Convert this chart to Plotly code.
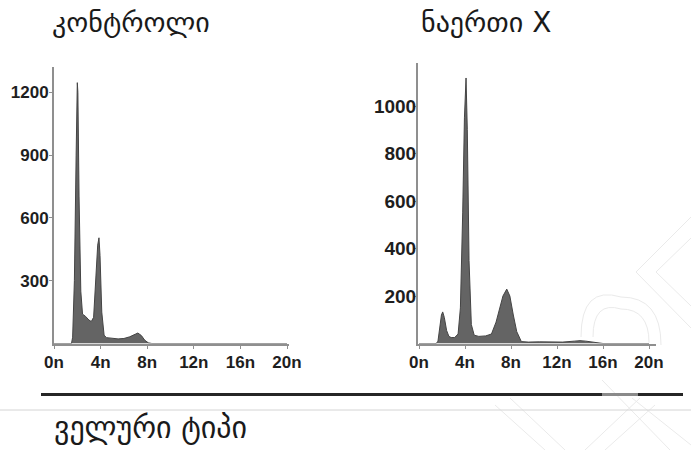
import plotly.graph_objects as go

# ---- data ----
ctrl_x = [0, 1.5, 1.6, 1.75, 1.9, 2.0, 2.05, 2.15, 2.3, 2.45, 2.7, 3.0, 3.2, 3.4, 3.6, 3.75, 3.86, 3.95, 4.1, 4.3, 4.5, 5.0, 5.5, 6.0, 6.5, 7.0, 7.2, 7.5, 7.8, 8.1, 8.4, 20]
ctrl_y = [0, 0, 30, 300, 900, 1246, 1200, 700, 250, 140, 130, 112, 105, 125, 300, 470, 505, 420, 150, 40, 28, 24, 22, 24, 32, 45, 50, 38, 15, 3, 0, 0]

trt_x = [0, 1.5, 1.65, 1.8, 1.95, 2.06, 2.2, 2.4, 2.6, 2.8, 3.1, 3.4, 3.6, 3.8, 3.95, 4.09, 4.2, 4.35, 4.55, 4.8, 5.2, 5.8, 6.3, 6.7, 7.0, 7.3, 7.63, 7.9, 8.2, 8.5, 8.9, 9.5, 10.5, 11.5, 12.5, 13.5, 14.0, 14.5, 15.0, 15.5, 16, 20]
trt_y = [0, 0, 10, 60, 120, 133, 110, 55, 30, 25, 25, 40, 150, 550, 950, 1118, 900, 350, 80, 35, 30, 32, 40, 90, 150, 200, 229, 200, 120, 50, 8, 6, 7, 5, 6, 10, 12, 10, 6, 3, 0, 0]

tick_vals_x = [0, 4, 8, 12, 16, 20]
tick_text_x = ["0n", "4n", "8n", "12n", "16n", "20n"]
ctrl_yticks = [300, 600, 900, 1200]
trt_yticks = [200, 400, 600, 800, 1000]

title_ctrl = "კონტროლი"
title_trt = "ნაერთი X"
label_bottom = "ველური ტიპი"

W, H = 691, 450
fill_c = "#646464"
line_c = "#444444"
axis_c = "#8f8f8f"

fig = go.Figure()
fig.add_trace(go.Scatter(x=ctrl_x, y=ctrl_y, mode="lines", fill="tozeroy",
                         fillcolor=fill_c, line=dict(color=line_c, width=1),
                         xaxis="x", yaxis="y", showlegend=False, hoverinfo="skip"))
fig.add_trace(go.Scatter(x=trt_x, y=trt_y, mode="lines", fill="tozeroy",
                         fillcolor=fill_c, line=dict(color=line_c, width=1),
                         xaxis="x2", yaxis="y2", showlegend=False, hoverinfo="skip"))

def px_x(p):
    return p / W

def px_y(p):
    return 1 - p / H

tickfont = dict(family="Liberation Sans, Arial, sans-serif", size=17, color="#1e1e1e", weight="bold")
tickfont_r = dict(family="Liberation Sans, Arial, sans-serif", size=19, color="#1e1e1e", weight="bold")

common_x = dict(showline=True, linecolor=axis_c, linewidth=2, showgrid=False, zeroline=False,
                tickmode="array", tickvals=tick_vals_x, ticktext=tick_text_x,
                ticks="outside", ticklen=3, tickcolor=axis_c, tickwidth=1,
                tickfont=tickfont, fixedrange=True, automargin=False)
common_y = dict(showline=True, linecolor=axis_c, linewidth=2, showgrid=False, zeroline=False,
                tickmode="array", ticks="outside", ticklen=3, tickcolor=axis_c, tickwidth=1,
                fixedrange=True, automargin=False)

fig.update_layout(
    width=W, height=H,
    margin=dict(l=0, r=0, t=0, b=0, autoexpand=False),
    paper_bgcolor="white", plot_bgcolor="white",
    xaxis=dict(domain=[px_x(54), px_x(289)], range=[0, (289 - 54) / 11.65],
               anchor="y", ticklabelstandoff=-1, **common_x),
    yaxis=dict(domain=[px_y(343.5), px_y(67)], range=[0, (343.5 - 67) / 62.8 * 300],
               anchor="x", tickvals=ctrl_yticks, ticklabelstandoff=-3, tickfont=tickfont, **common_y),
    xaxis2=dict(domain=[px_x(418), px_x(656)], range=[-1 / 11.5, (656 - 419) / 11.5],
                anchor="y2", ticklabelstandoff=-1, **common_x),
    yaxis2=dict(domain=[px_y(343.5), px_y(63)], range=[0, (343.5 - 63) / 47.5 * 200],
                anchor="x2", tickvals=trt_yticks, ticklabelstandoff=-7, tickfont=tickfont_r, **common_y),
)

# faint watermark lines (background decoration)
wm = "#eaeaea"
wm_lines = [
    (691, 217, 636, 272), (636, 272, 691, 328),
    (691, 238, 656, 272), (656, 272, 691, 306),
    (495, 405, 545, 450), (510, 398, 565, 450),
    (602, 380, 670, 450), (632, 398, 691, 445),
    (585, 450, 640, 398), (605, 450, 655, 405),
]
for x0, y0, x1, y1 in wm_lines:
    fig.add_shape(type="line", xref="paper", yref="paper", layer="below",
                  x0=px_x(x0), y0=px_y(y0), x1=px_x(x1), y1=px_y(y1),
                  line=dict(color=wm, width=1))
for r in (40, 28):
    fig.add_shape(type="path", xref="paper", yref="paper", layer="below",
                  path=f"M {px_x(621 - r)} {px_y(337)} Q {px_x(621 - r)} {px_y(337 - r * 1.3)} {px_x(621)} {px_y(337 - r)} Q {px_x(621 + r)} {px_y(337 - r)} {px_x(621 + r)} {px_y(337 + r * 0.2)}",
                  line=dict(color=wm, width=1))

gfont_t = dict(family="DejaVu Sans, sans-serif", size=28, color="#1a1a1a")
gfont_b = dict(family="DejaVu Sans, sans-serif", size=30, color="#1a1a1a")
fig.add_annotation(text=title_ctrl, x=px_x(50), y=px_y(32 - 0.35 * 28), xref="paper", yref="paper",
                   xanchor="left", yanchor="middle", showarrow=False, font=gfont_t)
fig.add_annotation(text=title_trt, x=px_x(419), y=px_y(32 - 0.35 * 28), xref="paper", yref="paper",
                   xanchor="left", yanchor="middle", showarrow=False, font=gfont_t)
fig.add_annotation(text=label_bottom, x=px_x(52), y=px_y(438 - 0.35 * 30), xref="paper", yref="paper",
                   xanchor="left", yanchor="middle", showarrow=False, font=gfont_b)

# separator lines
fig.add_shape(type="line", xref="paper", yref="paper", x0=px_x(41), x1=px_x(683),
              y0=px_y(394.5), y1=px_y(394.5), line=dict(color="#262626", width=3))
fig.add_shape(type="line", xref="paper", yref="paper", x0=px_x(602), x1=px_x(638),
              y0=px_y(394.5), y1=px_y(394.5), line=dict(color="#8a8a8a", width=3))
fig.add_shape(type="line", xref="paper", yref="paper", x0=0, x1=1,
              y0=px_y(410), y1=px_y(410), line=dict(color="#d4d4d4", width=1))

fig.write_html("out.html")
